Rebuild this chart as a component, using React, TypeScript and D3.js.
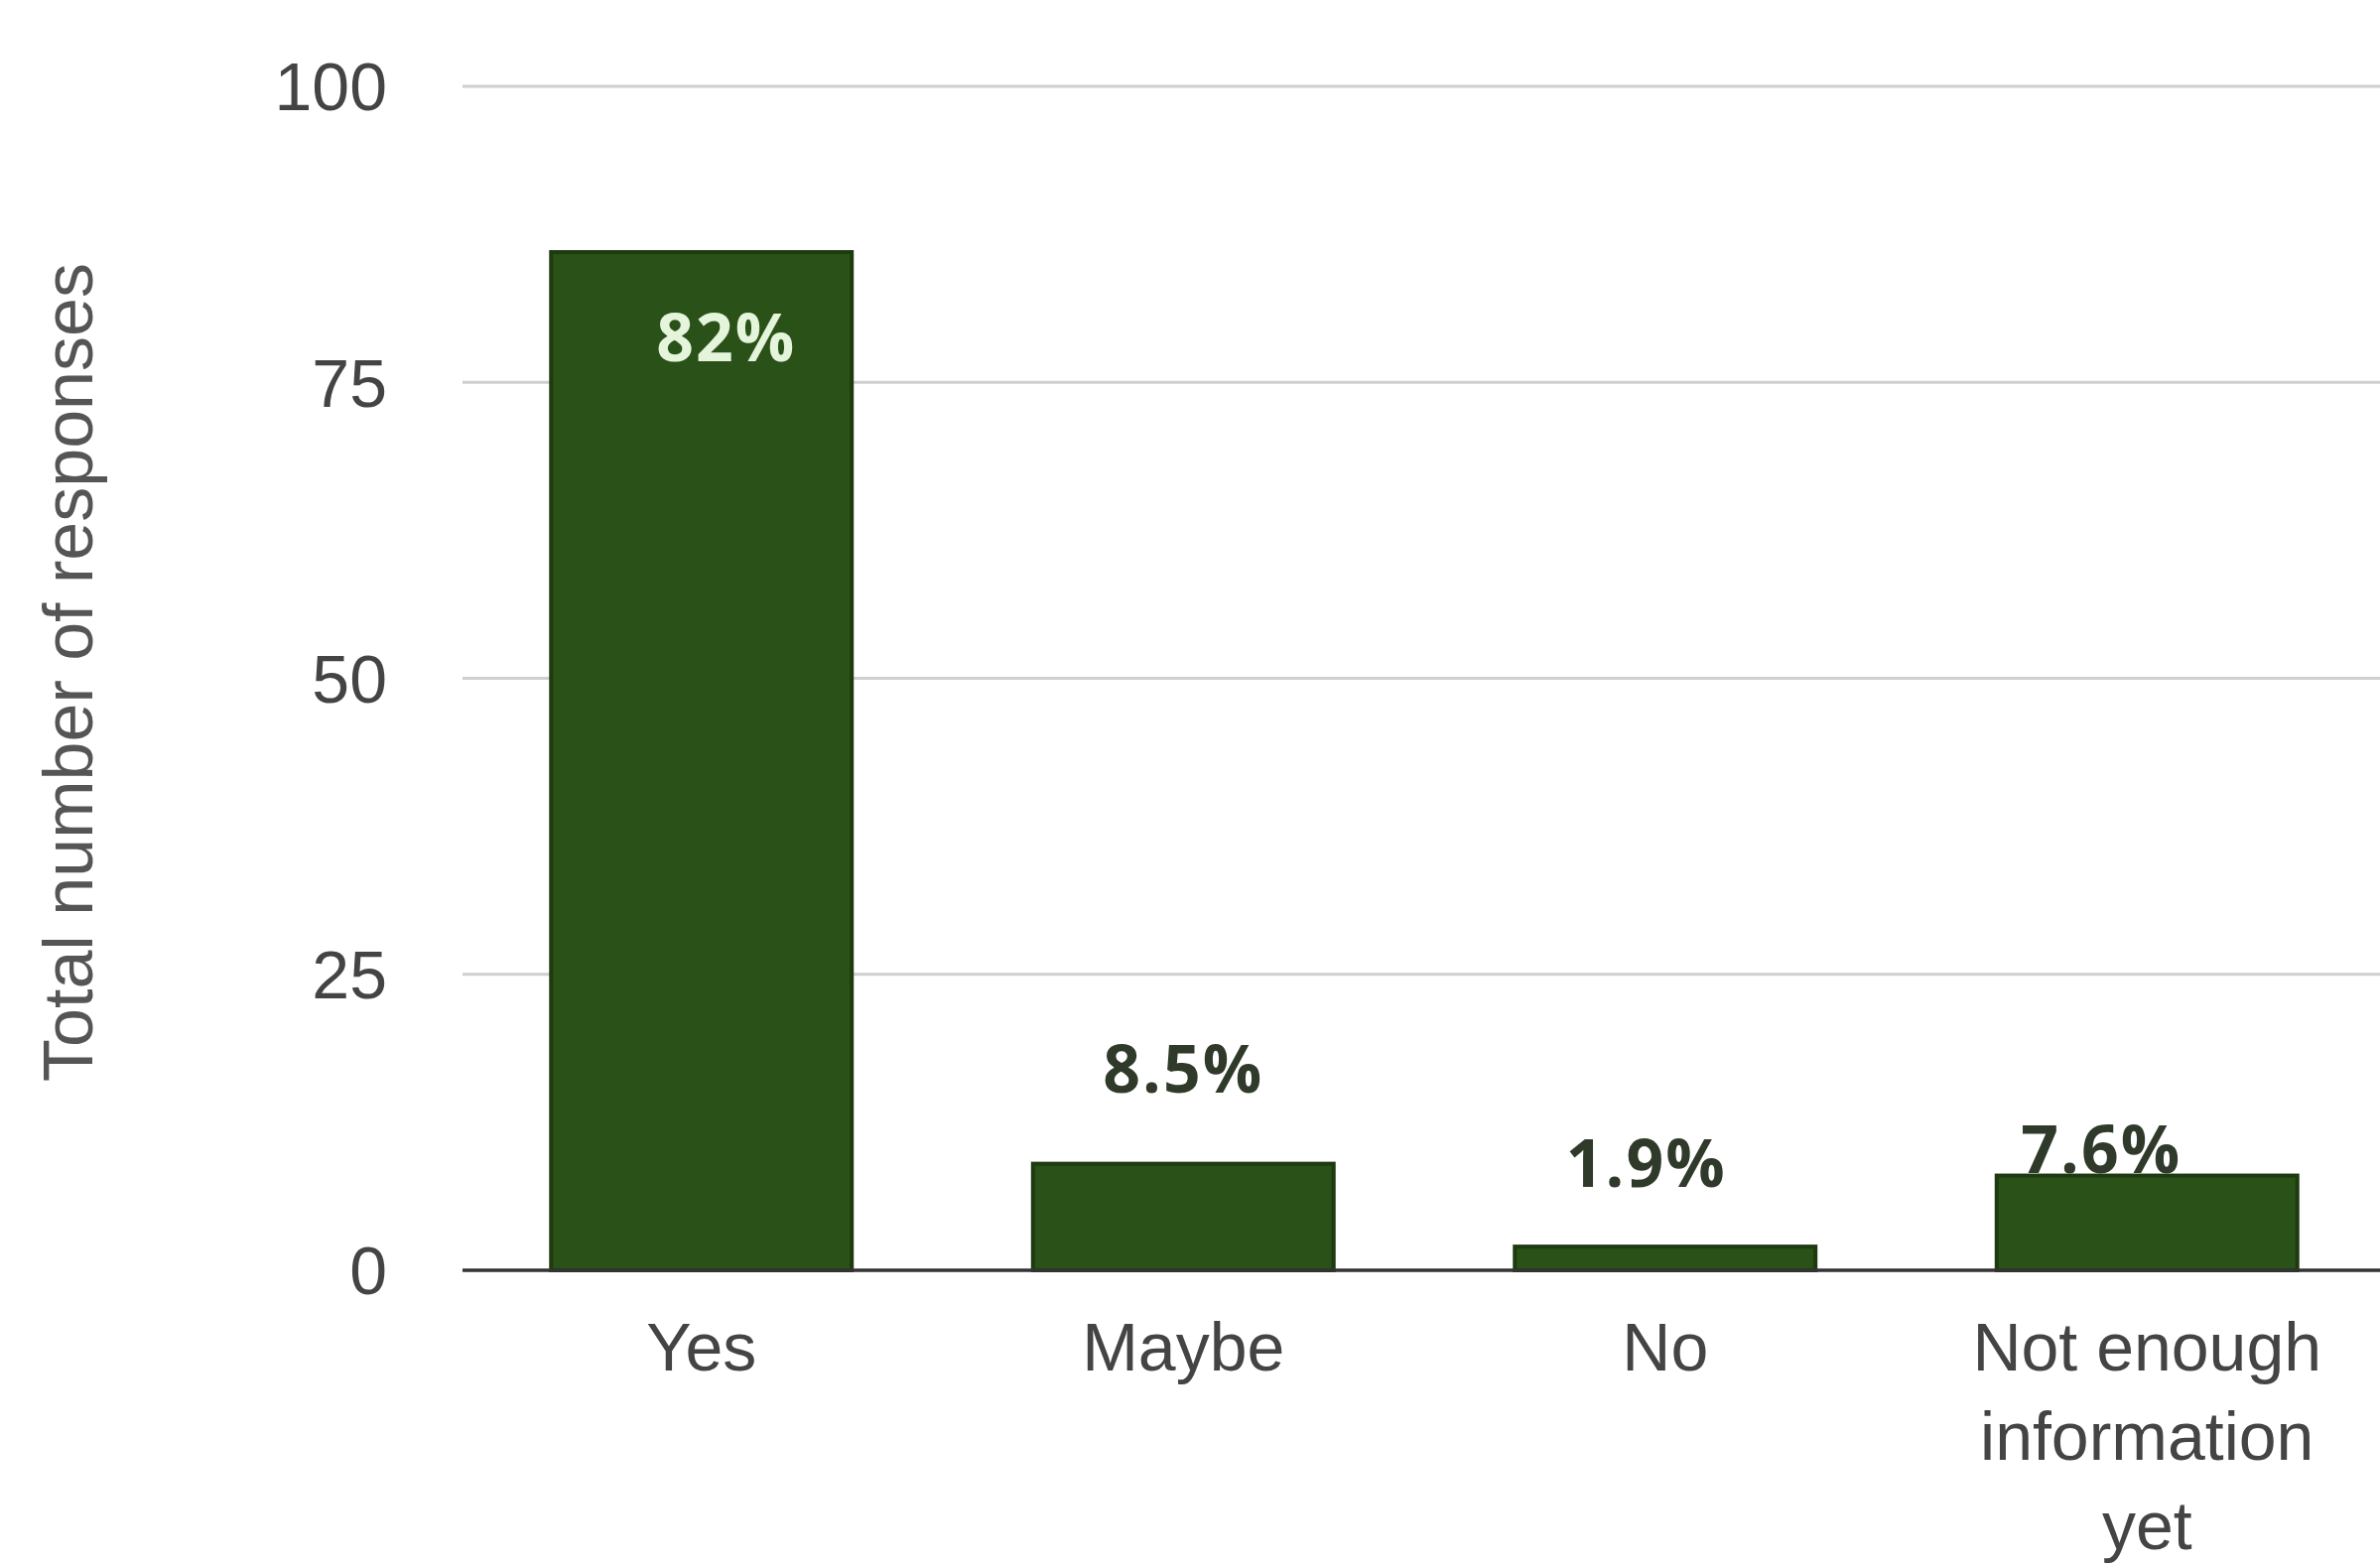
import React from "react";
import * as d3 from "d3";

const categories = ["Yes", "Maybe", "No", "Not enough information yet"];
const categoryLines = [["Yes"], ["Maybe"], ["No"], ["Not enough", "information", "yet"]];
const responses = [86, 9, 2, 8];
const percentLabels = ["82%", "8.5%", "1.9%", "7.6%"];
const yTicks = [0, 25, 50, 75, 100];
const yTitle = "Total number of responses";

// label placement tweaks (dx from bar centre, dy from bar top)
const labelDx = [25, 0, -19, -46];
const labelDy = [110, -72, -60, -3];
const labelInside = [true, false, false, false];

const W = 2398;
const H = 1579;
const plotLeft = 464;
const plotRight = 2406;
const plotTop = 87;
const plotBottom = 1280;

export default function App() {
  const x = d3
    .scaleBand<string>()
    .domain(categories)
    .range([plotLeft, plotRight])
    .paddingInner(0.376)
    .paddingOuter(0.188);
  const y = d3.scaleLinear().domain([0, 100]).range([plotBottom, plotTop]);

  const sans = "'Liberation Sans', Arial, sans-serif";
  const labelFont = "'Open Sans', 'Noto Sans', sans-serif";

  return (
    <svg
      width={W}
      height={H}
      style={{ position: "absolute", left: 0, top: 0, background: "#fff" }}
    >
      <rect x={0} y={0} width={W} height={H} fill="#fff" />
      {yTicks.map((t) => (
        <g key={t}>
          {t !== 0 && (
            <line
              x1={plotLeft + 2}
              x2={W}
              y1={y(t)}
              y2={y(t)}
              stroke="#cfcfcf"
              strokeWidth={3}
            />
          )}
          <text
            x={390}
            y={y(t)}
            dy="0.36em"
            textAnchor="end"
            fontFamily={sans}
            fontSize={68}
            fill="#444"
          >
            {t}
          </text>
        </g>
      ))}
      {categories.map((c, i) => {
        const bx = x(c)!;
        const bw = x.bandwidth();
        const top = y(responses[i]);
        return (
          <rect
            key={c}
            x={bx}
            y={top}
            width={bw}
            height={y(0) - top}
            fill="#2a5117"
            stroke="#1e3a10"
            strokeWidth={4}
          />
        );
      })}
      <line
        x1={plotLeft + 2}
        x2={W}
        y1={y(0)}
        y2={y(0)}
        stroke="#333"
        strokeWidth={3.5}
      />
      {categories.map((c, i) => {
        const cx = x(c)! + x.bandwidth() / 2;
        return (
          <text
            key={c}
            x={cx}
            y={y(0) + 101}
            textAnchor="middle"
            fontFamily={sans}
            fontSize={68}
            fill="#444"
          >
            {categoryLines[i].map((ln, j) => (
              <tspan key={j} x={cx} dy={j === 0 ? 0 : 90}>
                {ln}
              </tspan>
            ))}
          </text>
        );
      })}
      {categories.map((c, i) => {
        const cx = x(c)! + x.bandwidth() / 2 + labelDx[i];
        const top = y(responses[i]);
        return (
          <text
            key={c}
            x={cx}
            y={top + labelDy[i]}
            textAnchor="middle"
            fontFamily={labelFont}
            fontWeight={700}
            fontSize={66}
            letterSpacing={2}
            fill={labelInside[i] ? "#e4f5dc" : "#303a2b"}
          >
            {percentLabels[i]}
          </text>
        );
      })}
      <text
        transform={`translate(93, ${(plotTop + plotBottom) / 2 - 6}) rotate(-90)`}
        textAnchor="middle"
        fontFamily={sans}
        fontSize={70}
        fill="#555"
      >
        {yTitle}
      </text>
    </svg>
  );
}
